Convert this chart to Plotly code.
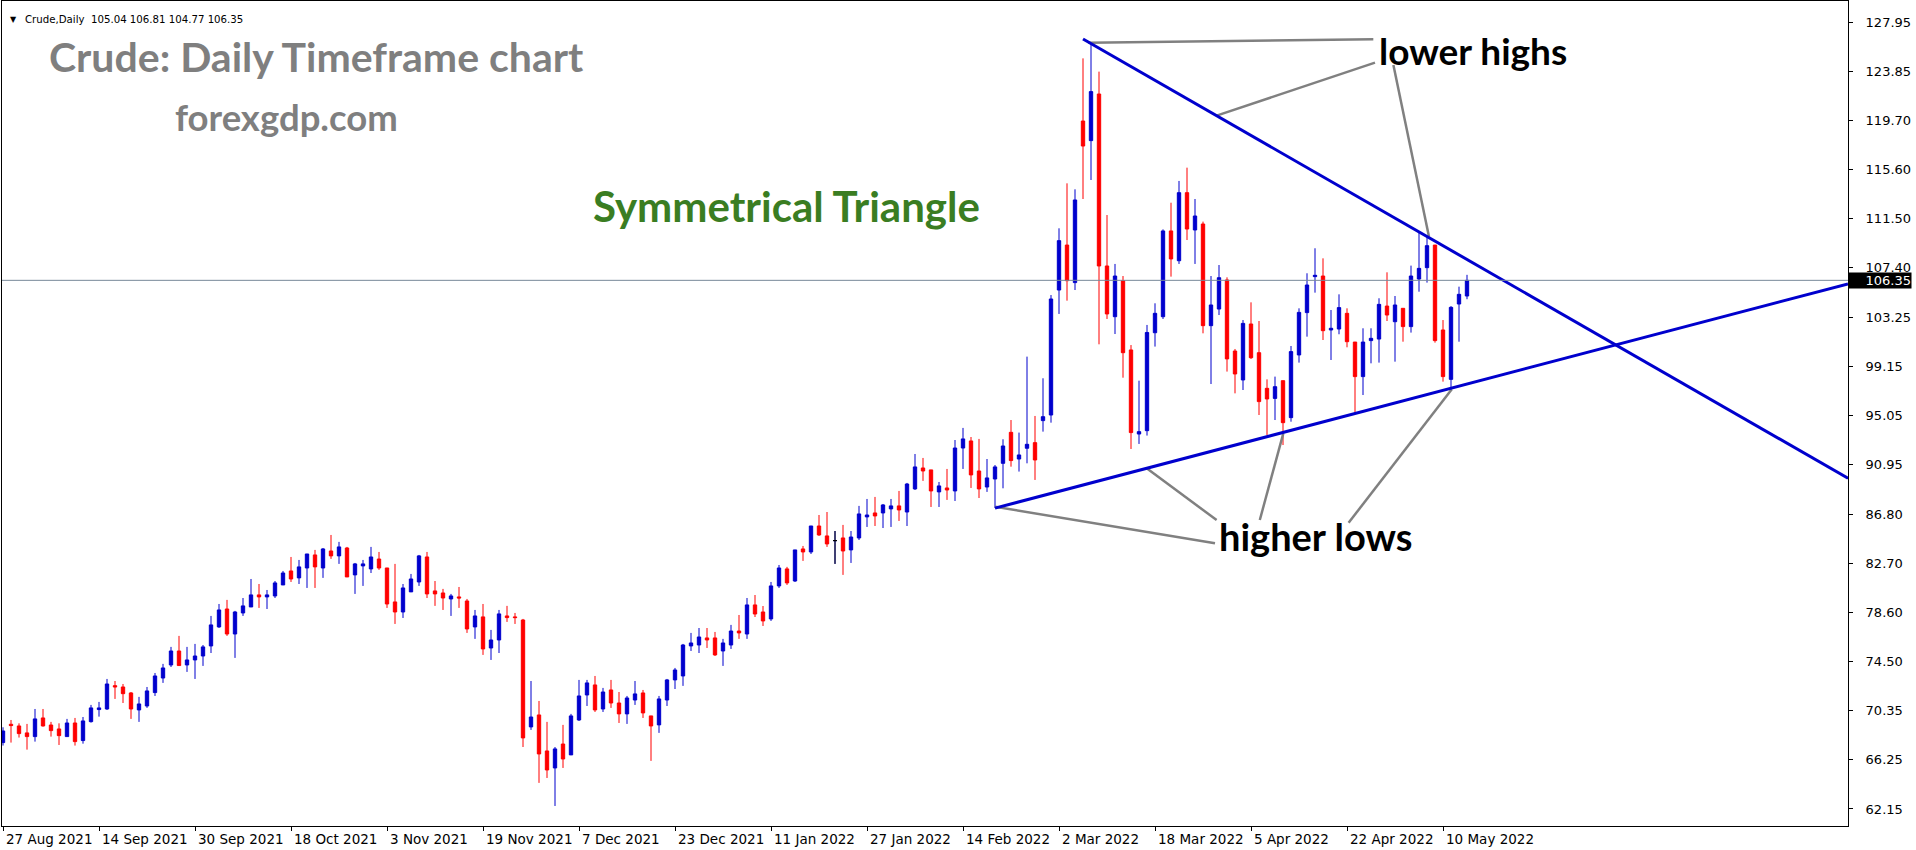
import plotly.graph_objects as go

# ---------------- data ----------------
opens = [67.70,69.23,69.09,68.51,68.20,69.76,69.17,68.84,68.20,69.34,67.87,69.45,70.46,70.51,72.46,72.35,71.85,70.43,70.76,71.88,
         73.10,74.19,75.36,74.19,74.61,74.94,75.78,77.37,78.87,76.78,78.54,79.04,80.05,79.88,79.96,80.88,82.05,81.47,82.30,83.39,
         82.30,83.72,83.31,83.97,81.72,82.47,82.22,83.05,82.30,79.46,78.62,80.30,81.13,83.22,80.38,80.21,79.71,79.88,79.54,77.37,
         78.21,75.61,76.28,78.29,78.21,77.95,69.01,70.01,67.00,65.58,67.58,66.67,69.59,71.68,72.52,70.51,72.10,71.01,70.10,71.26,
         71.85,69.93,69.18,71.26,72.94,73.27,75.78,75.86,76.45,76.45,75.36,75.86,77.03,76.78,79.21,78.62,78.04,80.80,82.22,81.21,
         83.89,83.64,85.81,84.98,84.59,84.81,83.81,84.81,86.57,86.90,86.90,87.24,87.49,86.98,88.91,90.66,90.50,88.66,88.99,88.74,
         92.33,92.92,90.41,89.07,89.74,91.05,93.64,91.41,92.31,92.78,94.62,95.09,105.54,109.30,106.16,119.67,118.03,121.93,107.55,103.31,
         106.32,100.53,93.50,93.78,101.97,103.31,110.48,107.99,113.68,110.56,111.06,102.56,103.95,106.38,100.44,98.02,102.70,100.30,97.32,96.48,
         97.96,94.87,100.11,103.65,106.66,106.71,102.20,102.28,103.59,101.19,98.30,101.31,101.44,104.20,102.89,104.01,102.48,106.46,107.41,109.30,
         102.20,98.07,104.37,105.04]
highs = [68.98,69.59,69.31,69.26,70.51,70.51,69.43,69.31,69.68,69.76,69.84,70.85,71.10,73.02,72.85,72.60,71.93,71.52,72.35,73.52,
         74.28,75.70,76.62,75.70,75.95,75.86,78.29,79.29,79.63,78.71,79.79,81.38,80.96,80.46,81.21,82.05,83.22,82.97,83.47,83.81,
         83.97,85.06,84.48,84.06,82.72,82.97,84.06,83.64,82.30,82.64,80.96,81.80,83.39,83.64,81.21,80.55,80.13,80.71,79.71,78.79,
         79.29,77.12,78.79,79.13,78.54,78.04,72.85,71.18,69.43,67.33,69.18,70.10,72.94,72.94,73.27,72.27,72.94,71.93,71.60,72.85,
         72.10,69.93,71.60,73.02,73.94,75.95,76.87,77.28,77.28,76.95,76.37,77.54,78.37,79.79,80.04,79.12,81.13,82.55,82.39,83.81,
         84.14,85.81,86.73,86.98,85.39,85.90,85.39,87.49,88.07,88.24,87.65,88.07,88.74,89.41,91.83,91.50,90.50,89.49,90.58,93.00,
         94.01,93.25,93.09,91.41,90.91,93.06,94.67,93.62,99.97,95.01,98.16,105.12,110.70,114.46,113.96,124.91,126.17,123.80,111.81,107.72,
         106.71,100.94,97.96,102.62,104.43,110.61,112.84,114.66,115.77,113.15,111.26,106.71,107.63,106.60,100.61,103.03,104.51,102.95,98.07,98.30,
         97.96,100.86,104.01,106.94,109.03,108.19,103.87,105.18,104.01,101.19,102.34,102.34,104.85,107.02,105.04,104.01,107.58,110.37,110.00,109.30,
         103.03,104.20,105.82,106.81]
lows = [67.45,67.70,68.12,67.11,67.78,69.04,68.20,67.50,68.20,67.45,67.61,69.37,69.87,70.43,71.35,71.01,69.68,69.43,70.60,71.60,
        72.69,74.02,74.14,73.61,73.02,74.11,75.19,77.29,76.62,74.78,78.29,79.04,78.96,78.87,79.79,80.88,81.13,80.96,80.63,80.63,
        81.47,83.06,82.64,81.55,80.13,80.80,81.88,82.14,78.96,77.62,78.12,80.30,80.80,79.79,79.13,78.79,78.29,78.96,76.87,76.37,
        75.03,74.61,75.19,77.79,77.62,67.33,68.76,64.33,64.74,62.40,65.58,66.67,69.51,70.76,70.26,70.26,70.60,69.34,69.26,70.85,
        69.76,66.17,68.51,70.76,72.18,72.44,75.36,75.19,75.61,74.94,74.11,75.53,76.37,76.37,78.20,77.45,77.87,80.63,80.88,81.13,
        82.89,83.47,84.98,84.06,82.64,81.72,82.72,84.64,85.73,85.81,85.64,85.73,86.23,85.81,88.82,89.58,87.40,87.40,87.99,87.90,
        90.58,88.99,88.15,88.66,87.32,88.96,90.77,90.36,91.05,89.66,93.70,94.45,103.54,104.65,105.54,113.15,114.74,101.00,103.12,101.86,
        98.21,92.25,92.67,93.37,100.81,103.12,106.66,107.72,109.72,107.72,101.92,97.68,103.45,98.72,96.90,97.18,99.77,95.09,93.42,94.67,
        92.58,94.53,99.47,101.64,105.32,101.36,99.69,101.84,100.75,95.29,96.76,99.41,99.47,102.95,99.55,101.22,101.98,105.40,106.16,101.14,
        97.88,97.24,101.22,104.77]
closes = [68.67,69.12,68.45,68.20,69.68,69.09,68.70,68.28,69.34,67.78,69.51,70.60,70.60,72.60,72.35,71.79,70.51,70.93,72.02,73.27,
          73.94,75.36,74.14,74.61,74.94,75.70,77.54,78.79,76.78,78.62,79.13,80.05,79.88,80.05,81.05,81.88,81.38,82.39,83.47,82.39,
          83.89,83.31,84.06,81.55,82.64,82.64,83.22,82.30,79.29,78.62,80.63,81.38,83.31,80.13,80.13,79.79,79.96,79.79,77.20,78.29,
          75.53,76.28,78.46,78.15,78.15,68.09,69.84,66.75,65.41,67.17,66.33,69.93,71.60,72.69,70.43,71.93,71.01,70.10,71.43,71.77,
          70.18,69.09,71.35,72.94,73.77,75.86,76.03,76.53,76.28,75.03,76.03,77.03,76.87,79.21,78.45,77.87,80.80,82.30,81.05,83.81,
          83.64,85.81,85.06,84.31,84.59,83.72,84.89,86.82,86.73,86.65,87.57,87.49,87.15,89.32,90.75,90.41,88.74,89.16,88.82,92.33,
          93.09,90.08,88.91,89.83,90.75,92.50,91.28,91.75,92.64,91.33,94.95,104.79,109.67,106.32,113.07,117.58,122.13,107.55,103.54,106.71,
          100.30,93.62,93.70,101.99,103.59,110.48,108.14,113.68,110.64,111.73,102.56,104.29,106.57,99.78,98.52,102.75,99.88,96.21,96.43,97.46,
          94.45,100.39,103.67,105.96,106.77,102.14,102.34,104.07,101.22,98.30,101.19,101.50,104.34,103.45,104.29,102.48,106.71,107.35,109.25,101.31,
          98.30,104.09,105.18,106.35]

date_labels = ["27 Aug 2021", "14 Sep 2021", "30 Sep 2021", "18 Oct 2021", "3 Nov 2021", "19 Nov 2021",
               "7 Dec 2021", "23 Dec 2021", "11 Jan 2022", "27 Jan 2022", "14 Feb 2022", "2 Mar 2022",
               "18 Mar 2022", "5 Apr 2022", "22 Apr 2022", "10 May 2022"]
date_label_bars = [0, 12, 24, 36, 48, 60, 72, 84, 96, 108, 120, 132, 144, 156, 168, 180]
price_ticks = [62.15, 66.25, 70.35, 74.50, 78.60, 82.70, 86.80, 90.95, 95.05, 99.15,
               103.25, 107.40, 111.50, 115.60, 119.70, 123.85, 127.95]
last_price = 106.35
doji_bars = [104]

# trend line anchor points (bar index, price)
upper_trend = [(135.0, 126.53), (178.4, 109.86)]
lower_trend = [(124.0, 87.30), (230.6, 106.05)]
# grey pointer lines (bar index, price)
pointer_lines = [
    [(135.66, 126.22), (171.29, 126.50)],
    [(151.7, 120.12), (171.5, 124.55)],
    [(173.8, 124.35), (178.25, 110.0)],
    [(124.0, 87.42), (151.5, 84.36)],
    [(142.96, 90.63), (151.7, 86.31)],
    [(160.04, 93.56), (157.1, 86.31)],
    [(181.1, 97.24), (168.2, 86.08)],
]

X_MIN, X_MAX = -0.125, 230.625
Y_MIN, Y_MAX = 60.725, 129.706

BLUE = "#0000CD"
RED = "#FF0000"
DATE_FONT = dict(family="DejaVu Sans", size=13.5, color="black")
PRICE_FONT = dict(family="DejaVu Sans", size=13, color="black")

n = len(opens)
xs = list(range(n))

fig = go.Figure()
fig.add_trace(go.Candlestick(
    x=xs, open=opens, high=highs, low=lows, close=closes,
    increasing=dict(line=dict(color=BLUE, width=1), fillcolor=BLUE),
    decreasing=dict(line=dict(color=RED, width=1), fillcolor=RED),
    whiskerwidth=0, showlegend=False, hoverinfo="skip"))
fig.add_trace(go.Candlestick(
    x=doji_bars, open=[opens[i] for i in doji_bars], high=[highs[i] for i in doji_bars],
    low=[lows[i] for i in doji_bars], close=[closes[i] for i in doji_bars],
    increasing=dict(line=dict(color="black", width=1), fillcolor="black"),
    decreasing=dict(line=dict(color="black", width=1), fillcolor="black"),
    whiskerwidth=0, showlegend=False, hoverinfo="skip"))


def ray(pts):
    (x0, y0), (x1, y1) = pts
    slope = (y1 - y0) / (x1 - x0)
    return [x0, X_MAX], [y0, y0 + slope * (X_MAX - x0)]


for seg in pointer_lines:
    fig.add_trace(go.Scatter(x=[p[0] for p in seg], y=[p[1] for p in seg], mode="lines",
                             line=dict(color="#808080", width=2.5), showlegend=False, hoverinfo="skip"))

for pts in (upper_trend, lower_trend):
    rx, ry = ray(pts)
    fig.add_trace(go.Scatter(x=rx, y=ry, mode="lines", line=dict(color=BLUE, width=3),
                             showlegend=False, hoverinfo="skip"))

fig.add_shape(type="line", xref="paper", x0=0, x1=1, yref="y", y0=last_price, y1=last_price,
              line=dict(color="#778899", width=1), layer="above")

ann = []
ann.append(dict(x=1.3, y=128.12, xref="x", yref="y", text="▼", showarrow=False,
                xanchor="center", yanchor="middle", font=dict(family="DejaVu Sans", size=8, color="black")))
ann.append(dict(x=2.5, y=128.12, xref="x", yref="y",
                text=f"Crude,Daily  {opens[-1]:.2f} {highs[-1]:.2f} {lows[-1]:.2f} {closes[-1]:.2f}",
                showarrow=False, xanchor="left", yanchor="middle",
                font=dict(family="DejaVu Sans", size=10.2, color="black")))
ann.append(dict(x=5.5, y=125.05, xref="x", yref="y", text="Crude: Daily Timeframe chart", showarrow=False,
                xanchor="left", yanchor="middle", font=dict(family="Lato", size=41, color="#7F7F7F", weight="bold")))
ann.append(dict(x=21.2, y=120.01, xref="x", yref="y", text="forexgdp.com", showarrow=False,
                xanchor="left", yanchor="middle", font=dict(family="Lato", size=36.5, color="#7F7F7F", weight="bold")))
ann.append(dict(x=73.5, y=112.58, xref="x", yref="y", text="Symmetrical Triangle", showarrow=False,
                xanchor="left", yanchor="middle", font=dict(family="Lato", size=42, color="#3A7D22", weight="bold")))
ann.append(dict(x=171.8, y=125.58, xref="x", yref="y", text="lower highs", showarrow=False,
                xanchor="left", yanchor="middle", font=dict(family="Lato", size=37, color="black", weight="bold")))
ann.append(dict(x=151.7, y=84.95, xref="x", yref="y", text="higher lows", showarrow=False,
                xanchor="left", yanchor="middle", font=dict(family="Lato", size=38, color="black", weight="bold")))
ann.append(dict(x=1.0, y=last_price, xref="paper", yref="y", text=f"{last_price:.2f}", showarrow=False,
                xanchor="left", yanchor="middle", bgcolor="black", borderpad=0, width=62, height=15,
                align="right", font=dict(PRICE_FONT, color="white")))

fig.update_layout(
    width=1916, height=850, template="none",
    paper_bgcolor="white", plot_bgcolor="white",
    margin=dict(l=2, r=68, t=1, b=24, autoexpand=False),
    boxgap=0.4, showlegend=False, annotations=ann,
    xaxis=dict(range=[X_MIN, X_MAX], rangeslider=dict(visible=False), showgrid=False, zeroline=False,
               tickmode="array", tickvals=date_label_bars, ticktext=date_labels,
               ticks="outside", ticklen=4, tickcolor="black", ticklabelposition="outside right",
               ticklabelshift=2, ticklabelstandoff=1,
               showline=True, linecolor="black", linewidth=1, mirror=True, automargin=False,
               tickfont=DATE_FONT),
    yaxis=dict(range=[Y_MIN, Y_MAX], side="right", showgrid=False, zeroline=False,
               tickmode="array", tickvals=price_ticks, ticktext=[f"{v:.2f}" for v in price_ticks],
               ticks="outside", ticklen=4, tickcolor="black", ticklabelstandoff=10,
               showline=True, linecolor="black", linewidth=1, mirror=True, automargin=False,
               tickfont=PRICE_FONT),
)

fig.write_html("out.html", config={"displayModeBar": False},
               post_script="document.body.style.margin='0';document.body.style.overflow='hidden';")
